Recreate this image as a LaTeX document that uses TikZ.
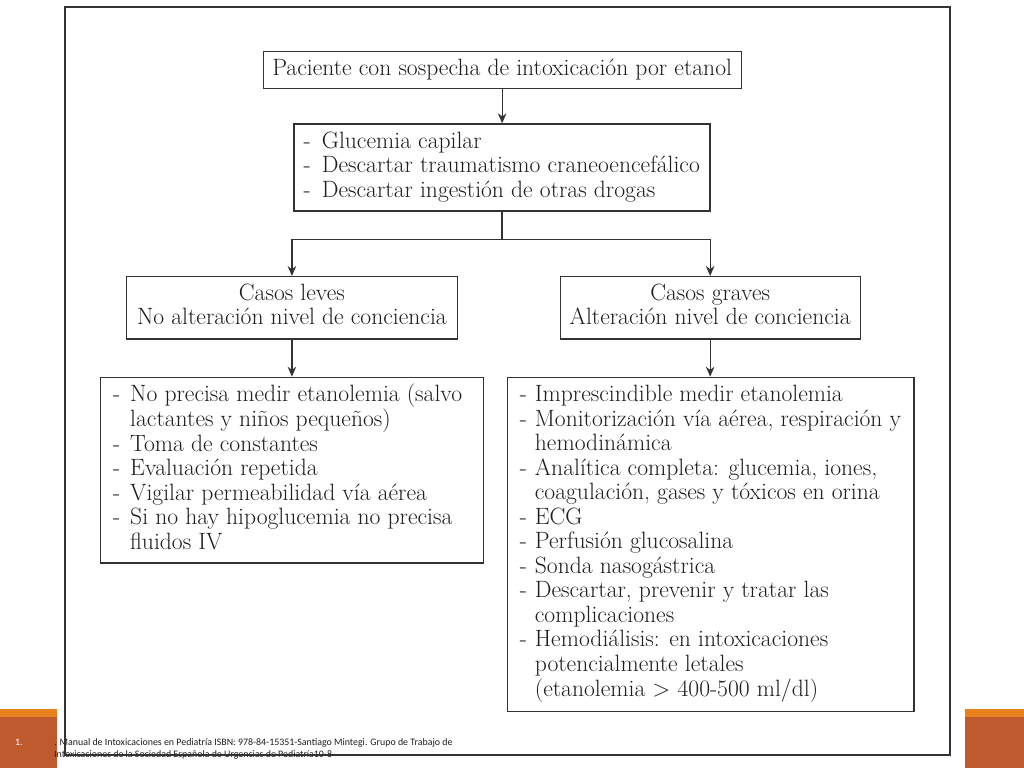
\documentclass[tikz,border=0pt]{standalone}
\usetikzlibrary{arrows.meta,calc}
\usepackage{fontspec}
\newfontfamily\footfont{Carlito}
\definecolor{orA}{HTML}{E8821E}
\definecolor{orB}{HTML}{BE5A2E}
\definecolor{ln}{HTML}{333333}
\definecolor{tx}{HTML}{1E1E1E}
\begin{document}
\begin{tikzpicture}[x=1pt,y=-1pt,
  box/.style={draw=ln, line width=1.3pt, inner sep=0pt, anchor=north west},
  arr/.style={draw=ln, line width=1.3pt, -{Stealth[length=10pt,width=8.5pt]}},
  conn/.style={draw=ln, line width=1.3pt},
  txt/.style={inner sep=0pt, text=tx, font=\fontsize{23.6}{24.5}\selectfont},
  foot/.style={inner sep=0pt, anchor=base west, font=\footfont\fontsize{9.9}{12}\selectfont},
  frame/.style={draw=ln, line width=1.6pt}]
\useasboundingbox (0,0) rectangle (1024,768);
\fill[white] (0,0) rectangle (1024,768);
% orange corner bars
\fill[orB] (0,709) rectangle (57,768);
\fill[orA] (0,709) rectangle (57,716.5);
\fill[orB] (965,709) rectangle (1024,768);
\fill[orA] (965,709) rectangle (1024,716.5);
% footer
\node[foot, text=white] (n1) at (15,745) {1.};
\node[foot, text=tx] (ref) at (54,745) {\begin{tabular}[t]{@{}l@{}}. Manual de Intoxicaciones en Pediatría ISBN: 978-84-15351-Santiago Mintegi. Grupo de Trabajo de\\ Intoxicaciones de la Sociedad Española de Urgencias de Pediatría10-8\end{tabular}};
% frame
\draw[frame] (65,7) rectangle (950,755);
% boxes
\node[box, minimum width=478pt, minimum height=37pt] (b1) at (262.5,50.7) {};
\node[box, minimum width=416pt, minimum height=87pt] (b2) at (293.3,123.3) {};
\node[box, minimum width=330.5pt, minimum height=62.3pt] (b3) at (126,276) {};
\node[box, minimum width=300pt, minimum height=62.3pt] (b4) at (559.5,276) {};
\node[box, minimum width=382.5pt, minimum height=185.6pt] (b5) at (100,376.7) {};
\node[box, minimum width=406.6pt, minimum height=334pt] (b6) at (506.7,376.7) {};
% texts
\node[txt, anchor=base] (t1) at ($(b1.north)+(0,25)$) {Paciente con sospecha de intoxicación por etanol};
\node[txt, anchor=base west] (t2) at ($(b2.north west)+(10,24.7)$) {\begin{tabular}[t]{@{}p{18.4pt}@{}l@{}}
-&Glucemia capilar\\
-&Descartar traumatismo craneoencefálico\\
-&Descartar ingestión de otras drogas\end{tabular}};
\node[txt, anchor=base] (t3) at ($(b3.north)+(0,24)$) {\begin{tabular}[t]{@{}c@{}}Casos leves\\No alteración nivel de conciencia\end{tabular}};
\node[txt, anchor=base] (t4) at ($(b4.north)+(0,24)$) {\begin{tabular}[t]{@{}c@{}}Casos graves\\Alteración nivel de conciencia\end{tabular}};
\node[txt, anchor=base west] (t5) at ($(b5.north west)+(13,25)$) {\begin{tabular}[t]{@{}p{17pt}@{}l@{}}
-&No precisa medir etanolemia (salvo\\
&lactantes y niños pequeños)\\
-&Toma de constantes\\
-&Evaluación repetida\\
-&Vigilar permeabilidad vía aérea\\
-&Si no hay hipoglucemia no precisa\\
&fluidos IV\end{tabular}};
\node[txt, anchor=base west] (t6) at ($(b6.north west)+(13,25)$) {\begin{tabular}[t]{@{}p{15pt}@{}l@{}}
-&Imprescindible medir etanolemia\\
-&Monitorización vía aérea, respiración y\\
&hemodinámica\\
-&Analítica completa: glucemia, iones,\\
&coagulación, gases y tóxicos en orina\\
-&ECG\\
-&Perfusión glucosalina\\
-&Sonda nasogástrica\\
-&Descartar, prevenir y tratar las\\
&complicaciones\\
-&Hemodiálisis: en intoxicaciones\\
&potencialmente letales\\
&(etanolemia > 400-500 ml/dl)\end{tabular}};
% connectors
\coordinate (j) at ($(b2.south)+(0,28)$);
\draw[arr] (b1.south) -- (b1.south |- b2.north);
\draw[conn] (b2.south) -- (j);
\draw[arr] (j) -| (b3.north);
\draw[arr] (j) -| (b4.north);
\draw[arr] (b3.south) -- (b3.south |- b5.north);
\draw[arr] (b4.south) -- (b4.south |- b6.north);
\end{tikzpicture}
\end{document}
